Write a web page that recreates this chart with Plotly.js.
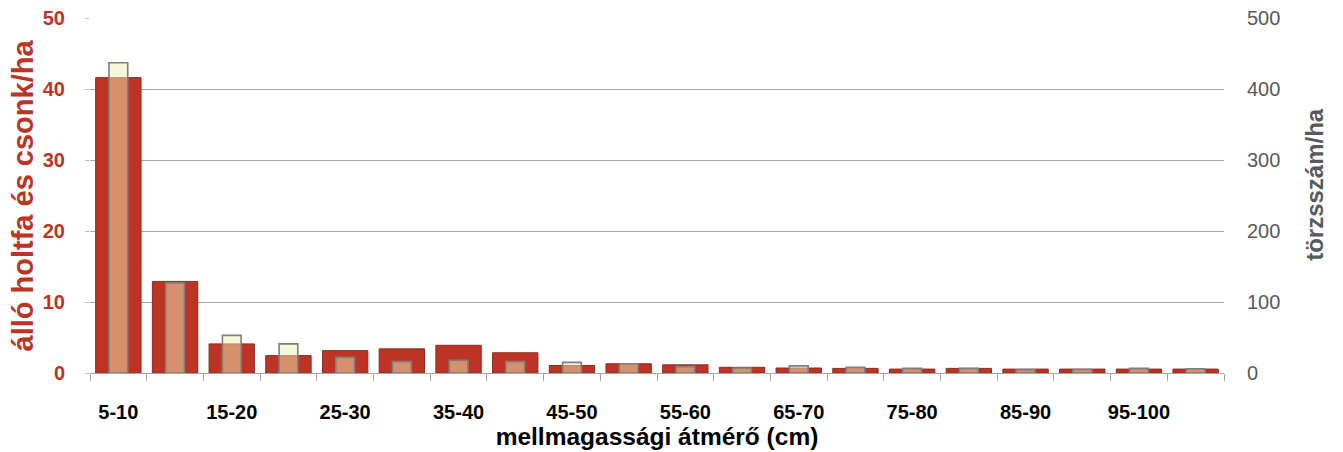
<!DOCTYPE html>
<html>
<head>
<meta charset="utf-8">
<script src="https://cdn.plot.ly/plotly-3.0.1.min.js"></script>
<style>html,body{margin:0;padding:0;background:#fff;}#chart{width:1343px;height:452px;}</style>
</head>
<body>
<div id="chart"></div>
<script>
// diameter classes (cm)
const categories = ["5-10","10-15","15-20","20-25","25-30","30-35","35-40","40-45","45-50","50-55",
                    "55-60","60-65","65-70","70-75","75-80","80-85","85-90","90-95","95-100","100-"];
// tick labels shown (every other class)
const tickLabels = ["5-10","","15-20","","25-30","","35-40","","45-50","",
                    "55-60","","65-70","","75-80","","85-90","","95-100",""];
// standing deadwood and stumps per ha (left axis)
const deadwood = [41.6,12.9,4.1,2.45,3.15,3.4,3.9,2.85,1.05,1.3,
                  1.15,0.8,0.7,0.65,0.55,0.65,0.55,0.55,0.55,0.55];
// stem number per ha (right axis)
const stems = [437,127,53,41,22,16,18,16,15,13,
               9,7,10,8,6.5,6.5,4.5,5,6.5,6];

const red = "#BE3424";
const data = [
  {type:"bar", x:categories, y:deadwood, yaxis:"y", name:"álló holtfa és csonk/ha",
   marker:{color:red, line:{color:"#8E2A1E", width:1}}, width:0.8, offset:-0.4, hoverinfo:"x+y"},
  {type:"bar", x:categories, y:stems, yaxis:"y2", name:"törzsszám/ha",
   marker:{color:"rgba(238,238,180,0.5)", line:{color:"#7F7F7F", width:1.6}}, width:0.33, offset:-0.165, hoverinfo:"x+y"}
];
const layout = {
  width:1343, height:452,
  margin:{l:90, r:119, t:18, b:79},
  paper_bgcolor:"#fff", plot_bgcolor:"#fff",
  showlegend:false,
  barmode:"overlay",
  font:{family:"Liberation Sans, Arial, sans-serif"},
  xaxis:{
    type:"category", tickmode:"array", tickvals:categories, ticktext:tickLabels,
    tickson:"boundaries", ticks:"outside", ticklen:7, tickcolor:"#A6A6A6", tickangle:0,
    ticklabelstandoff:21,
    showline:true, linecolor:"#A6A6A6", linewidth:1, showgrid:false,
    tickfont:{family:"Liberation Sans, Arial", size:20, color:"#000", weight:"bold"},
    title:{text:"mellmagassági átmérő (cm)", font:{family:"Liberation Sans, Arial", size:24.5, color:"#000", weight:"bold"}, standoff:3},
    range:[-0.5,19.5], fixedrange:true
  },
  yaxis:{
    range:[0,50], tickvals:[0,10,20,30,40,50], ticks:"outside", ticklen:4, tickcolor:"#BFBFBF",
    ticklabelstandoff:16,
    showgrid:true, gridcolor:"#A6A6A6", gridwidth:1, zeroline:false, showline:false,
    tickfont:{size:20, color:red, family:"Liberation Sans, Arial", weight:"bold"}
  },
  yaxis2:{
    overlaying:"y", side:"right", range:[0,500], tickvals:[0,100,200,300,400,500],
    showgrid:false, zeroline:false, showline:false, ticks:"",
    ticklabelstandoff:22,
    tickfont:{size:20, color:"#595959"}
  },
  annotations:[
    {text:"álló holtfa és csonk/ha", xref:"paper", yref:"paper", x:0, y:0.5, xshift:-68,
     textangle:-90, xanchor:"center", yanchor:"middle", showarrow:false,
     font:{size:29, color:red, weight:"bold"}},
    {text:"törzsszám/ha", xref:"paper", yref:"paper", x:1, y:0.53, xshift:91,
     textangle:-90, xanchor:"center", yanchor:"middle", showarrow:false,
     font:{size:24, color:"#595959", weight:"bold"}}
  ]
};
Plotly.newPlot("chart", data, layout, {staticPlot:true});
</script>
</body>
</html>
